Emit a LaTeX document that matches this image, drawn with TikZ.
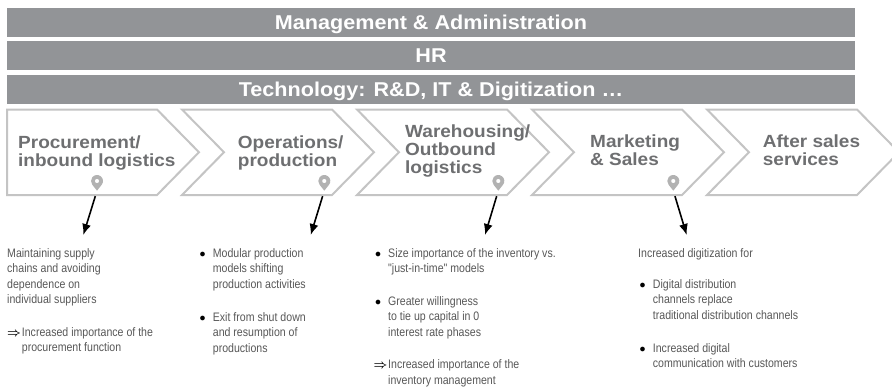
\documentclass[tikz,border=0pt]{standalone}
\usepackage{amsmath}
\usepackage{fontspec}
\usetikzlibrary{arrows.meta}
\setmainfont{Liberation Sans}
\newfontfamily\vcheadfont[FakeStretch=1.08]{Liberation Sans}
\newfontfamily\vcbodyfont[FakeStretch=0.86]{Liberation Sans}
\definecolor{vcbargray}{RGB}{146,148,151}
\definecolor{vcedge}{RGB}{196,196,196}
\definecolor{vcpingray}{RGB}{178,178,178}
\definecolor{vcheadtext}{RGB}{110,111,113}
\definecolor{vcbodytext}{RGB}{88,88,88}
\newcommand{\vcbul}{\makebox[14.7pt][l]{\hspace{1.5pt}\textcolor{black}{$\bullet$}}}
\newcommand{\vcimp}{\makebox[14.7pt][l]{\textcolor{black}{$\boldsymbol{\Rightarrow}$}}}
\newcommand{\vcind}{\hspace*{14.7pt}}
\tikzset{
    vcpin/.pic={
        \fill[vcpingray, even odd rule] (0,0) -- (4.72,5.99)
            arc[start angle=-38.2, end angle=218.2, radius=6] -- cycle
            (0,9.7) circle[radius=2.2];
        \coordinate (-tip) at (0,0);
    }
}
\begin{document}
\begin{tikzpicture}[x=1pt, y=1pt,
    vcbar/.style={fill=vcbargray, text=white, inner sep=0pt,
        minimum width=848pt, minimum height=28.5pt, text height=14.3pt, text depth=0pt,
        font=\vcheadfont\bfseries\fontsize{20}{20}\selectfont},
    vcchev/.style={draw=vcedge, line width=2pt, fill=white},
    vchead/.style={anchor=west, align=left, inner sep=0pt, text=vcheadtext,
        font=\vcheadfont\bfseries\fontsize{17.6}{18}\selectfont},
    vcbody/.style={anchor=north west, align=left, inner sep=0pt, text=vcbodytext,
        font=\vcbodyfont\fontsize{12.3}{15.5}\selectfont},
    vcarrow/.style={-{Latex[length=11pt,width=9pt]}, line width=1.6pt, black, shorten <=5.7pt}]
    \useasboundingbox[fill=white] (0,0) rectangle (892,-386);
    \clip (0,0) rectangle (892,-386);

    % support activities
    \node[vcbar] (mgmt) at (431,-22.5) {Management \& Administration};
    \node[vcbar] (hr) at (431,-55.5) {HR};
    \node[vcbar] (tech) at (431,-89.5) {Technology: R\&D, IT \& Digitization …};

    % primary activities
    \draw[vcchev] (7,-109.5) -- (157,-109.5) -- (199,-152.25) -- (157,-195) -- (7,-195) -- cycle;
    \draw[vcchev] (182,-109.5) -- (332,-109.5) -- (374,-152.25) -- (332,-195) -- (182,-195) -- (224,-152.25) -- cycle;
    \draw[vcchev] (357,-109.5) -- (507,-109.5) -- (549,-152.25) -- (507,-195) -- (357,-195) -- (399,-152.25) -- cycle;
    \draw[vcchev] (532,-109.5) -- (682,-109.5) -- (724,-152.25) -- (682,-195) -- (532,-195) -- (574,-152.25) -- cycle;
    \draw[vcchev] (707,-109.5) -- (857,-109.5) -- (899,-152.25) -- (857,-195) -- (707,-195) -- (749,-152.25) -- cycle;

    \node[vchead] (procure) at (18,-152.5) {Procurement/\\inbound logistics};
    \node[vchead] (operate) at (237.7,-152.5) {Operations/\\production};
    \node[vchead] (warehouse) at (405,-150.8) {Warehousing/\\Outbound\\logistics};
    \node[vchead] (market) at (590,-150.5) {Marketing\\\& Sales};
    \node[vchead] (aftersales) at (762.7,-150.2) {After sales\\services};

    \pic (pin1) at (97,-190.7) {vcpin};
    \pic (pin2) at (324.3,-190.7) {vcpin};
    \pic (pin3) at (498.3,-190.7) {vcpin};
    \pic (pin4) at (673.3,-190.7) {vcpin};

    % effects
    \node[vcbody] (procurenote) at (7,-248.3) {Maintaining supply\\chains and avoiding\\dependence on\\individual suppliers\\[17pt]
        \vcimp Increased importance of the\\\vcind procurement function};
    \node[vcbody] (operatenote) at (198,-248.3) {\vcbul Modular production\\\vcind models shifting\\\vcind production activities\\[17.2pt]
        \vcbul Exit from shut down\\\vcind and resumption of\\\vcind productions};
    \node[vcbody] (warehousenote) at (373.3,-248.3) {\vcbul Size importance of the inventory vs.\\\vcind "just-in-time" models\\[17pt]
        \vcbul Greater willingness\\\vcind to tie up capital in 0\\\vcind interest rate phases\\[17pt]
        \vcimp Increased importance of the\\\vcind inventory management};
    \node[vcbody] (marketnote) at (638,-248.3) {Increased digitization for\\[15.5pt]
        \vcbul Digital distribution\\\vcind channels replace\\\vcind traditional distribution channels\\[17.5pt]
        \vcbul Increased digital\\\vcind communication with customers};

    \coordinate (end1) at (83.3,-235);
    \coordinate (end2) at (310.7,-235);
    \coordinate (end3) at (485,-235);
    \coordinate (end4) at (686.7,-235);
    \draw[vcarrow] (pin1-tip) -- (end1);
    \draw[vcarrow] (pin2-tip) -- (end2);
    \draw[vcarrow] (pin3-tip) -- (end3);
    \draw[vcarrow] (pin4-tip) -- (end4);
\end{tikzpicture}
\end{document}
